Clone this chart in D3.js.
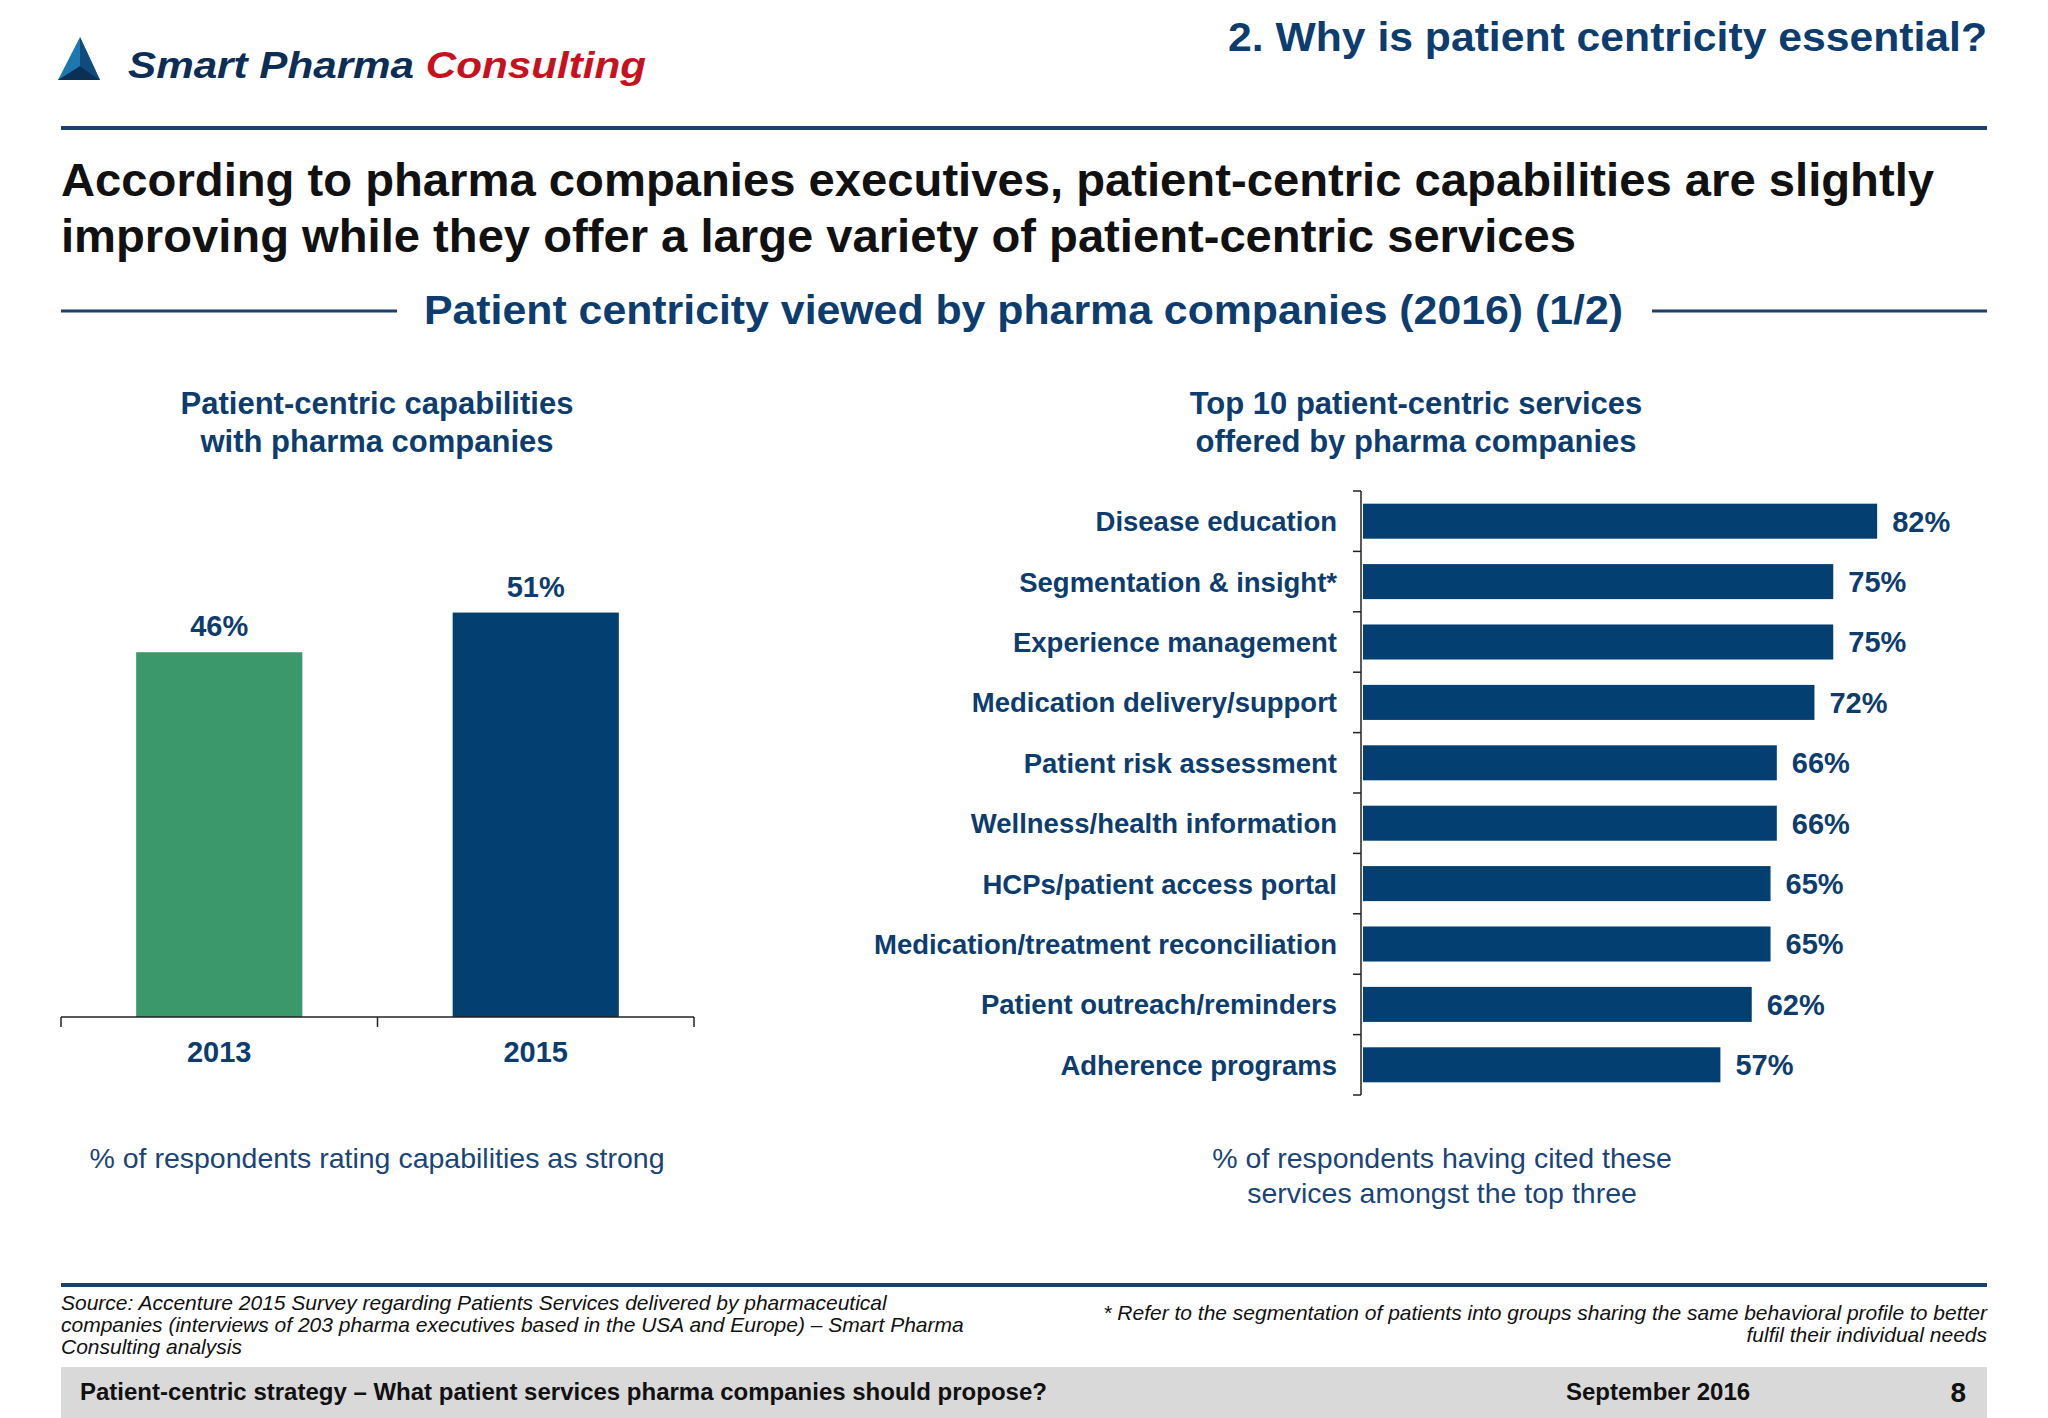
<!DOCTYPE html>
<html lang="en">
<meta charset="utf-8">
<script src="https://d3js.org/d3.v7.min.js"></script>
<head>
    <style type="text/css">
        body { margin: 0; background: #fff; }
        svg text { font-family: "Liberation Sans", Arial, sans-serif; }
    </style>
</head>
<body>
    <div id="my_dataviz"></div>
    <script>

        // data
        const years = ["2013", "2015"];
        const capability = [46, 51];
        const yearColors = ["#3a986a", "#043f72"];

        const services = [
            "Disease education",
            "Segmentation & insight*",
            "Experience management",
            "Medication delivery/support",
            "Patient risk assessment",
            "Wellness/health information",
            "HCPs/patient access portal",
            "Medication/treatment reconciliation",
            "Patient outreach/reminders",
            "Adherence programs"
        ];
        const servicePct = [82, 75, 75, 72, 66, 66, 65, 65, 62, 57];

        const navy = "#0d3c6e";
        const W = 2048, H = 1418;

        const svg = d3.select("#my_dataviz")
            .append("svg")
            .attr("width", W)
            .attr("height", H);

        // ---- header ----
        svg.append("polygon")
            .attr("points", "80,37 58,80 100,80")
            .attr("fill", "#1d78b0");
        svg.append("polygon")
            .attr("points", "80,37 80,66 100,80")
            .attr("fill", "#114b7c");
        svg.append("polygon")
            .attr("points", "58,80 80,66 100,80")
            .attr("fill", "#0b2f55");

        const logo = svg.append("text")
            .attr("x", 128)
            .attr("y", 78)
            .attr("font-family", "'DejaVu Sans', sans-serif")
            .attr("font-size", 36)
            .attr("font-weight", "bold")
            .attr("font-style", "italic")
            .attr("textLength", 518)
            .attr("lengthAdjust", "spacingAndGlyphs");
        logo.append("tspan").attr("fill", "#0c2d55").text("Smart Pharma ");
        logo.append("tspan").attr("fill", "#c8101e").text("Consulting");

        svg.append("text")
            .attr("x", 1228)
            .attr("y", 51)
            .attr("font-size", 41)
            .attr("font-weight", "bold")
            .attr("fill", navy)
            .attr("textLength", 759)
            .attr("lengthAdjust", "spacingAndGlyphs")
            .text("2. Why is patient centricity essential?");

        svg.append("rect")
            .attr("x", 61).attr("y", 126)
            .attr("width", 1926).attr("height", 4)
            .attr("fill", "#1c3f6b");

        const headline = [
            "According to pharma companies executives, patient-centric capabilities are slightly",
            "improving while they offer a large variety of patient-centric services"
        ];
        const headlineLen = [1873, 1515];
        svg.selectAll(".headline")
            .data(headline)
            .join("text")
            .attr("class", "headline")
            .attr("x", 61)
            .attr("y", (d, i) => 196 + i * 56)
            .attr("font-size", 46)
            .attr("font-weight", "bold")
            .attr("fill", "#111")
            .attr("textLength", (d, i) => headlineLen[i])
            .attr("lengthAdjust", "spacingAndGlyphs")
            .text(d => d);

        // section title with rules
        svg.append("line")
            .attr("x1", 61).attr("x2", 397)
            .attr("y1", 311).attr("y2", 311)
            .attr("stroke", "#1c3f6b").attr("stroke-width", 3);
        svg.append("line")
            .attr("x1", 1652).attr("x2", 1987)
            .attr("y1", 311).attr("y2", 311)
            .attr("stroke", "#1c3f6b").attr("stroke-width", 3);
        svg.append("text")
            .attr("x", 424)
            .attr("y", 324)
            .attr("font-size", 40)
            .attr("font-weight", "bold")
            .attr("fill", navy)
            .attr("textLength", 1199)
            .attr("lengthAdjust", "spacingAndGlyphs")
            .text("Patient centricity viewed by pharma companies (2016) (1/2)");

        // ---- left chart ----
        const subLeft = ["Patient-centric capabilities", "with pharma companies"];
        svg.selectAll(".subleft")
            .data(subLeft)
            .join("text")
            .attr("class", "subleft")
            .attr("x", 377)
            .attr("y", (d, i) => 414 + i * 38)
            .attr("text-anchor", "middle")
            .attr("font-size", 31)
            .attr("font-weight", "bold")
            .attr("fill", navy)
            .text(d => d);

        const xL = d3.scaleBand()
            .domain(years)
            .range([61, 694])
            .paddingInner(0.475)
            .paddingOuter(0.2375);
        const yL = d3.scaleLinear()
            .domain([0, 100])
            .range([1017, 224]);

        svg.selectAll(".capbar")
            .data(capability)
            .join("rect")
            .attr("class", "capbar")
            .attr("x", (d, i) => xL(years[i]))
            .attr("y", d => yL(d))
            .attr("width", xL.bandwidth())
            .attr("height", d => yL(0) - yL(d))
            .attr("fill", (d, i) => yearColors[i]);

        svg.selectAll(".caplabel")
            .data(capability)
            .join("text")
            .attr("class", "caplabel")
            .attr("x", (d, i) => xL(years[i]) + xL.bandwidth() / 2)
            .attr("y", d => yL(d) - 16)
            .attr("text-anchor", "middle")
            .attr("font-size", 29)
            .attr("font-weight", "bold")
            .attr("fill", navy)
            .text(d => d + "%");

        // x axis: line + ticks at band boundaries
        svg.append("line")
            .attr("x1", 61).attr("x2", 694)
            .attr("y1", 1017).attr("y2", 1017)
            .attr("stroke", "#222").attr("stroke-width", 1.5);
        const bounds = [61, 61 + xL.step(), 694];
        svg.selectAll(".ltick")
            .data(bounds)
            .join("line")
            .attr("class", "ltick")
            .attr("x1", d => d).attr("x2", d => d)
            .attr("y1", 1017).attr("y2", 1027)
            .attr("stroke", "#222").attr("stroke-width", 1.5);
        svg.selectAll(".year")
            .data(years)
            .join("text")
            .attr("class", "year")
            .attr("x", d => xL(d) + xL.bandwidth() / 2)
            .attr("y", 1062)
            .attr("text-anchor", "middle")
            .attr("font-size", 29)
            .attr("font-weight", "bold")
            .attr("fill", navy)
            .text(d => d);

        svg.append("text")
            .attr("x", 377)
            .attr("y", 1168)
            .attr("text-anchor", "middle")
            .attr("font-size", 28.5)
            .attr("fill", "#1a4478")
            .text("% of respondents rating capabilities as strong");

        // ---- right chart ----
        const subRight = ["Top 10 patient-centric services", "offered by pharma companies"];
        svg.selectAll(".subright")
            .data(subRight)
            .join("text")
            .attr("class", "subright")
            .attr("x", 1416)
            .attr("y", (d, i) => 414 + i * 38)
            .attr("text-anchor", "middle")
            .attr("font-size", 31)
            .attr("font-weight", "bold")
            .attr("fill", navy)
            .text(d => d);

        const yR = d3.scaleBand()
            .domain(services)
            .range([491, 1095])
            .paddingInner(0.42)
            .paddingOuter(0.21);
        const xR = d3.scaleLinear()
            .domain([0, 100])
            .range([1363, 1990]);

        svg.selectAll(".svcbar")
            .data(servicePct)
            .join("rect")
            .attr("class", "svcbar")
            .attr("x", xR(0))
            .attr("y", (d, i) => yR(services[i]))
            .attr("width", d => xR(d) - xR(0))
            .attr("height", yR.bandwidth())
            .attr("fill", "#043f72");

        svg.selectAll(".svclabel")
            .data(servicePct)
            .join("text")
            .attr("class", "svclabel")
            .attr("x", d => xR(d) + 15)
            .attr("y", (d, i) => yR(services[i]) + yR.bandwidth() / 2)
            .attr("dy", "0.36em")
            .attr("font-size", 29)
            .attr("font-weight", "bold")
            .attr("fill", navy)
            .text(d => d + "%");

        svg.selectAll(".svcname")
            .data(services)
            .join("text")
            .attr("class", "svcname")
            .attr("x", 1337)
            .attr("y", d => yR(d) + yR.bandwidth() / 2)
            .attr("dy", "0.36em")
            .attr("text-anchor", "end")
            .attr("font-size", 27.5)
            .attr("font-weight", "bold")
            .attr("fill", navy)
            .text(d => d);

        // y axis line + ticks at band boundaries
        svg.append("line")
            .attr("x1", 1361).attr("x2", 1361)
            .attr("y1", 491).attr("y2", 1095)
            .attr("stroke", "#222").attr("stroke-width", 1.5);
        const rbounds = d3.range(services.length + 1).map(i => 491 + i * yR.step());
        svg.selectAll(".rtick")
            .data(rbounds)
            .join("line")
            .attr("class", "rtick")
            .attr("x1", 1353).attr("x2", 1361)
            .attr("y1", d => d).attr("y2", d => d)
            .attr("stroke", "#222").attr("stroke-width", 1.5);

        const noteRight = ["% of respondents having cited these", "services amongst the top three"];
        svg.selectAll(".noteright")
            .data(noteRight)
            .join("text")
            .attr("class", "noteright")
            .attr("x", 1442)
            .attr("y", (d, i) => 1168 + i * 35)
            .attr("text-anchor", "middle")
            .attr("font-size", 28.5)
            .attr("fill", "#1a4478")
            .text(d => d);

        // ---- footer ----
        svg.append("rect")
            .attr("x", 61).attr("y", 1283)
            .attr("width", 1926).attr("height", 4)
            .attr("fill", "#1c3f6b");

        const source = [
            "Source: Accenture 2015 Survey regarding Patients Services delivered by pharmaceutical",
            "companies (interviews of 203 pharma executives based in the USA and Europe) \u2013 Smart Pharma",
            "Consulting analysis"
        ];
        svg.selectAll(".source")
            .data(source)
            .join("text")
            .attr("class", "source")
            .attr("x", 61)
            .attr("y", (d, i) => 1310 + i * 22)
            .attr("font-size", 21)
            .attr("font-style", "italic")
            .attr("fill", "#111")
            .text(d => d);

        const note = [
            "* Refer to the segmentation of patients into groups sharing the same behavioral profile to better",
            "fulfil their individual needs"
        ];
        svg.selectAll(".note")
            .data(note)
            .join("text")
            .attr("class", "note")
            .attr("x", 1987)
            .attr("y", (d, i) => 1320 + i * 22)
            .attr("text-anchor", "end")
            .attr("font-size", 21)
            .attr("font-style", "italic")
            .attr("fill", "#111")
            .text(d => d);

        svg.append("rect")
            .attr("x", 61).attr("y", 1367)
            .attr("width", 1926).attr("height", 51)
            .attr("fill", "#d9d9d9");
        svg.append("text")
            .attr("x", 80).attr("y", 1400)
            .attr("font-size", 24)
            .attr("font-weight", "bold")
            .attr("fill", "#111")
            .text("Patient-centric strategy \u2013 What patient services pharma companies should propose?");
        svg.append("text")
            .attr("x", 1566).attr("y", 1400)
            .attr("font-size", 24)
            .attr("font-weight", "bold")
            .attr("fill", "#111")
            .text("September 2016");
        svg.append("text")
            .attr("x", 1966).attr("y", 1402)
            .attr("text-anchor", "end")
            .attr("font-size", 28)
            .attr("font-weight", "bold")
            .attr("fill", "#111")
            .text("8");

    </script>
</body>
</html>
